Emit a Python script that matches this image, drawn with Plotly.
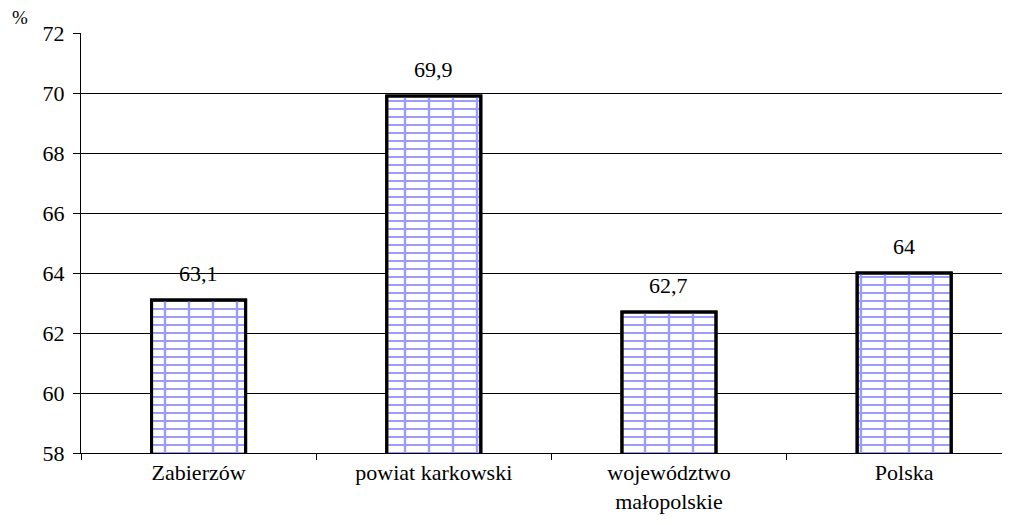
import plotly.graph_objects as go

categories = ["Zabierzów", "powiat karkowski", "województwo<br>małopolskie", "Polska"]
values = [63.1, 69.9, 62.7, 64]
value_labels = ["63,1", "69,9", "62,7", "64"]
y_ticks = [58, 60, 62, 64, 66, 68, 70, 72]

FONT = "Liberation Serif"
brick = "#9c9cff"

fig = go.Figure()
# horizontal mortar lines
fig.add_trace(go.Bar(
    x=categories, y=values, width=0.4,
    marker=dict(color="white", line=dict(color="black", width=3),
                pattern=dict(shape="-", fgcolor=brick, bgcolor="white",
                             size=8, solidity=0.25, fillmode="replace")),
    hoverinfo="skip", showlegend=False,
))
# vertical mortar lines
fig.add_trace(go.Bar(
    x=categories, y=values, width=0.4,
    marker=dict(color="rgba(0,0,0,0)", line=dict(color="black", width=3),
                pattern=dict(shape="|", fgcolor=brick, bgcolor="rgba(0,0,0,0)",
                             size=24, solidity=0.1, fillmode="replace")),
    hoverinfo="skip", showlegend=False,
))

for c, v, t in zip(categories, values, value_labels):
    fig.add_annotation(x=c, y=v, text=t, showarrow=False, yanchor="bottom",
                       yshift=12, font=dict(family=FONT, size=22, color="black"))

fig.add_annotation(xref="paper", yref="paper", x=-0.0764, y=1.007, text="%",
                   showarrow=False, xanchor="left", yanchor="bottom",
                   font=dict(family=FONT, size=19, color="black"))

fig.update_layout(
    width=1002, height=509,
    margin=dict(l=73, r=0, t=25, b=64),
    barmode="overlay",
    plot_bgcolor="white", paper_bgcolor="white",
    font=dict(family=FONT, size=22, color="black"),
    xaxis=dict(type="category", range=[-0.5, 3.45], showline=True,
               linecolor="black", linewidth=1, ticks="outside",
               tickson="boundaries", ticklen=6, tickcolor="black",
               showgrid=False, tickfont=dict(family=FONT, size=22, color="black")),
    yaxis=dict(range=[58, 72], tickvals=y_ticks, showline=True,
               linecolor="black", linewidth=1, ticks="outside", ticklen=7,
               tickcolor="black", showgrid=True, gridcolor="black",
               gridwidth=1, zeroline=False, ticklabelstandoff=4,
               tickfont=dict(family=FONT, size=22, color="black")),
)

fig.write_html("out.html")
